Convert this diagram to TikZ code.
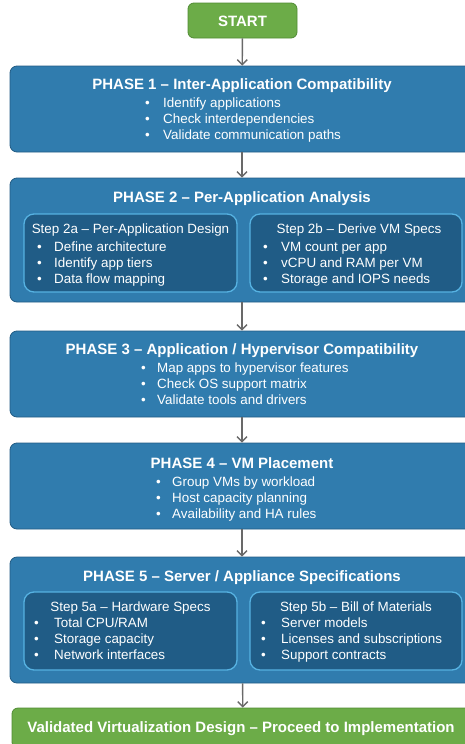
\documentclass[tikz,border=0pt]{standalone}
\usepackage{fontspec}
\setmainfont{Liberation Sans}
\usetikzlibrary{arrows.meta}

\definecolor{phasefill}{RGB}{48,124,174}
\definecolor{phaseline}{RGB}{34,92,132}
\definecolor{stepfill}{RGB}{32,92,134}
\definecolor{stepline}{RGB}{86,178,226}
\definecolor{gofill}{RGB}{108,172,72}
\definecolor{goline}{RGB}{80,140,52}
\definecolor{flowgray}{RGB}{105,105,105}

% bullet list: first column holds the dot, second the item text
\newcommand{\itemrows}[2]{%
  \begin{tabular}[t]{@{}p{#1pt}@{}l@{}}#2\end{tabular}}

\begin{document}
\begin{tikzpicture}[x=1pt,y=-1pt,
  phase/.style={draw=phaseline, line width=0.8pt, fill=phasefill,
    rounded corners=7pt, minimum width=464pt, inner sep=0pt},
  stepbox/.style={draw=stepline, line width=1.3pt, fill=stepfill,
    rounded corners=10pt, minimum height=78pt, inner sep=0pt},
  gobox/.style={draw=goline, line width=0.8pt, fill=gofill,
    rounded corners=6pt, inner sep=0pt},
  ptitle/.style={anchor=base, inner sep=0pt, text=white,
    font=\fontsize{15}{18}\selectfont\bfseries},
  shead/.style={anchor=base, inner sep=0pt, text=white,
    font=\fontsize{13.4}{16}\selectfont},
  items/.style={anchor=base west, inner sep=0pt, text=white,
    font=\fontsize{13.4}{16}\selectfont},
  flow/.style={draw=flowgray, line width=1.4pt,
    -{Straight Barb[length=5pt,width=10pt,line width=1.4pt]}}
]
\useasboundingbox (0,0) rectangle (465,744);
\clip (0,0) rectangle (465,744);

% start
\node[gobox, minimum width=109pt, minimum height=35pt] (start) at (242.5,20.5) {};
\node[ptitle] (startt) at (242.5,26) {START};

% phase 1
\node[phase, minimum height=86pt] (p1) at (242,109) {};
\node[ptitle] (p1t) at (242,89.5) {PHASE 1 – Inter-Application Compatibility};
\node[items] (p1i) at (145,107.5) {\itemrows{18}{•&Identify applications\\
  •&Check interdependencies\\ •&Validate communication paths}};

% phase 2
\node[phase, minimum height=124pt] (p2) at (242,240) {};
\node[ptitle] (p2t) at (242,202.5) {PHASE 2 – Per-Application Analysis};
\node[stepbox, minimum width=213pt] (s2a) at (130.5,253) {};
\node[stepbox, minimum width=212pt] (s2b) at (356,253) {};
\node[shead] (s2at) at (130.5,233.5) {Step 2a – Per-Application Design};
\node[shead] (s2bt) at (359,233.5) {Step 2b – Derive VM Specs};
\node[items] (s2ai) at (37,251.5) {\itemrows{17}{•&Define architecture\\
  •&Identify app tiers\\ •&Data flow mapping}};
\node[items] (s2bi) at (263,251.5) {\itemrows{18}{•&VM count per app\\
  •&vCPU and RAM per VM\\ •&Storage and IOPS needs}};

% phase 3
\node[phase, minimum height=86pt] (p3) at (242,374) {};
\node[ptitle] (p3t) at (242,354.5) {PHASE 3 – Application / Hypervisor Compatibility};
\node[items] (p3i) at (141,372.5) {\itemrows{16}{•&Map apps to hypervisor features\\
  •&Check OS support matrix\\ •&Validate tools and drivers}};

% phase 4
\node[phase, minimum height=86pt] (p4) at (242,486) {};
\node[ptitle] (p4t) at (242,468.5) {PHASE 4 – VM Placement};
\node[items] (p4i) at (156,486.5) {\itemrows{16}{•&Group VMs by workload\\
  •&Host capacity planning\\ •&Availability and HA rules}};

% phase 5
\node[phase, minimum height=126pt] (p5) at (242,620) {};
\node[ptitle] (p5t) at (242,581.5) {PHASE 5 – Server / Appliance Specifications};
\node[stepbox, minimum width=213pt] (s5a) at (130.5,631) {};
\node[stepbox, minimum width=212pt] (s5b) at (356,631) {};
\node[shead] (s5at) at (130.5,611.5) {Step 5a – Hardware Specs};
\node[shead] (s5bt) at (356,611.5) {Step 5b – Bill of Materials};
\node[items] (s5ai) at (34,627.5) {\itemrows{20}{•&Total CPU/RAM\\
  •&Storage capacity\\ •&Network interfaces}};
\node[items] (s5bi) at (261,627.5) {\itemrows{20}{•&Server models\\
  •&Licenses and subscriptions\\ •&Support contracts}};

% result
\node[gobox, minimum width=462pt, minimum height=40pt] (done) at (243,728) {};
\node[ptitle] (donet) at (241,732.5) {Validated Virtualization Design – Proceed to Implementation};

% connectors
\draw[flow] (start) -- (p1);
\draw[flow] (p1) -- (p2);
\draw[flow] (p2) -- (p3);
\draw[flow] (p3) -- (p4);
\draw[flow] (p4) -- (p5);
\draw[flow] (p5) -- (done);
\end{tikzpicture}
\end{document}
